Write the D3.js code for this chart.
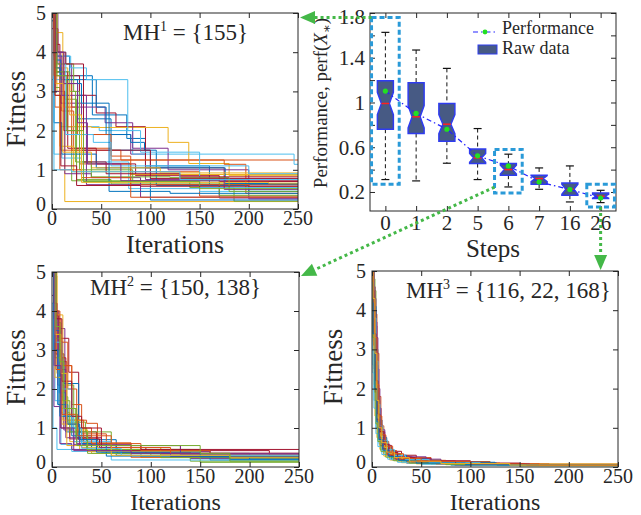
<!DOCTYPE html>
<html>
<head>
<meta charset="utf-8">
<script src="https://cdn.jsdelivr.net/npm/d3@7"></script>
<style>
  body { margin: 0; background: #fff; }
  text { font-family: "Liberation Serif", "DejaVu Serif", serif; fill: #262626; }
</style>
</head>
<body>
<svg id="fig" width="641" height="515"></svg>
<script>
// ---- data ----
const iterTicks = [0, 50, 100, 150, 200, 250];
const fitnessTicks = [0, 1, 2, 3, 4, 5];
const lineColors = ["#0072BD", "#D95319", "#EDB120", "#7E2F8E", "#77AC30", "#4DBEEE", "#A2142F"];

// best-so-far fitness of each run: [iteration, fitness] where the value changes
const runsMH1 = [
  [[0,5.5],[4,3.9],[18,3.4],[41,2.4],[76,1.8],[95,1.1],[160,0.62]],
  [[0,5.3],[3,3.6],[10,2.5],[22,1.55],[60,1.25]],
  [[0,5.8],[5,3.0],[13,0.19]],
  [[0,5.2],[2,4.0],[9,2.7],[30,1.9],[80,1.4],[95,0.75],[200,0.62]],
  [[0,5.4],[3,3.1],[8,2.1],[20,0.72],[140,0.55],[185,0.2]],
  [[0,5.1],[4,3.3],[15,2.1],[48,2.0],[82,1.4],[246,1.14]],
  [[0,5.7],[2,4.0],[12,3.4],[28,2.9],[45,2.45],[65,2.1],[95,1.05],[175,0.72]],
  [[0,4.8],[3,3.5],[12,3.3],[26,2.3],[60,1.5],[100,0.23]],
  [[0,5.5],[3,2.6],[9,1.5],[28,1.15],[80,0.95],[150,0.33]],
  [[0,5.9],[4,3.6],[16,2.1],[40,2.08],[118,1.7],[139,1.16],[180,0.85]],
  [[0,5.3],[6,3.7],[20,2.6],[54,2.2],[82,1.55],[118,1.0],[200,0.26]],
  [[0,5.0],[3,3.0],[13,2.8],[25,0.75],[60,0.64]],
  [[0,5.2],[2,1.4],[10,1.3],[30,1.2],[78,0.52],[150,0.45]],
  [[0,5.6],[3,4.2],[8,3.5],[16,1.55],[45,1.15],[85,0.85],[170,0.7]],
  [[0,5.4],[2,3.8],[9,3.3],[45,2.6],[55,1.9],[80,1.7],[94,1.5],[106,0.6],[200,0.45]],
  [[0,5.2],[4,3.2],[20,1.5],[70,1.25],[175,1.14],[197,0.4]],
  [[0,5.4],[3,2.9],[8,1.6],[22,0.95],[80,0.88]],
  [[0,4.6],[3,3.0],[13,0.9],[40,0.8],[90,0.62],[170,0.28]],
  [[0,5.5],[4,3.7],[22,3.0],[28,1.0],[82,0.72],[170,0.35]],
  [[0,5.0],[3,3.9],[19,3.6],[35,3.3],[77,2.0],[90,1.45],[150,0.55]],
  [[0,5.9],[4,3.5],[12,2.0],[30,1.5],[100,0.78]],
  [[0,4.9],[2,2.2],[10,1.4],[45,1.05],[176,0.65]],
  [[0,5.1],[3,3.5],[12,2.6],[26,1.9],[60,1.35],[80,0.62],[200,0.58]],
  [[0,5.6],[5,4.5],[11,1.45],[40,1.05],[110,0.92]],
  [[0,5.3],[2,3.9],[10,2.9],[35,0.62],[90,0.3]],
  [[0,5.0],[4,3.5],[18,3.0],[24,1.2],[40,0.82],[120,0.8],[180,0.45]],
  [[0,5.4],[3,4.0],[14,1.9],[42,1.7],[60,1.1],[200,0.9]],
  [[0,5.2],[2,4.6],[6,4.0],[14,3.7],[32,1.2],[55,0.9],[130,0.82]],
  [[0,4.9],[3,3.6],[8,3.2],[30,2.7],[58,0.45],[120,0.4]],
  [[0,5.0],[2,3.4],[8,1.0],[30,0.8],[80,0.3]],
  [[0,5.7],[3,3.2],[18,2.4],[30,0.68],[220,0.66]],
  [[0,5.5],[4,4.0],[12,3.2],[26,2.2],[36,1.15],[70,0.72],[175,0.5]],
  [[0,5.2],[5,3.4],[15,2.0],[32,0.7],[150,0.52]],
  [[0,3.3],[2,1.0],[20,0.95],[130,0.75]],
  [[0,5.5],[3,2.9],[9,1.1],[25,0.6],[90,0.58]]
];

const runsMH2 = [
  [[0,5.4],[2,3.4],[6,1.6],[14,0.9],[30,0.55],[65,0.3],[180,0.2]],
  [[0,5.2],[3,3.8],[9,2.7],[15,1.2],[35,1.12],[46,0.5],[110,0.33],[200,0.28]],
  [[0,5.0],[1,4.9],[5,2.4],[12,1.0],[28,0.45],[90,0.25]],
  [[0,5.5],[3,4.0],[7,3.55],[13,1.3],[25,0.6],[60,0.38],[140,0.22]],
  [[0,5.3],[4,3.0],[10,1.5],[24,0.75],[40,0.42],[100,0.3],[150,0.12]],
  [[0,4.2],[1,1.0],[5,0.45],[50,0.38],[120,0.25]],
  [[0,5.6],[2,4.0],[6,3.3],[17,2.43],[27,0.9],[45,0.55],[130,0.3]],
  [[0,5.1],[3,2.9],[12,2.14],[27,0.7],[65,0.42],[160,0.18]],
  [[0,5.4],[2,3.6],[8,2.6],[20,1.6],[30,0.85],[55,0.45],[130,0.3]],
  [[0,5.6],[4,3.0],[8,1.4],[18,0.65],[40,0.35],[180,0.22]],
  [[0,5.2],[2,3.5],[6,2.1],[12,0.95],[22,0.58],[80,0.4],[160,0.25]],
  [[0,5.0],[3,3.7],[9,1.8],[16,1.15],[34,0.9],[60,0.45],[140,0.15]],
  [[0,5.3],[3,1.7],[9,0.58],[20,0.4],[90,0.28]],
  [[0,5.5],[3,3.9],[7,2.8],[14,1.1],[25,0.75],[50,0.42],[220,0.3]],
  [[0,5.2],[2,2.6],[8,1.9],[14,1.5],[20,0.8],[40,0.5],[66,0.35],[200,0.2]],
  [[0,5.6],[4,2.9],[12,2.6],[20,1.2],[32,0.62],[80,0.25]],
  [[0,5.9],[5,3.9],[11,1.2],[30,0.5],[110,0.3]],
  [[0,4.4],[2,1.55],[8,0.6],[20,0.45],[70,0.38],[120,0.27]],
  [[0,5.1],[3,3.3],[8,2.1],[22,1.0],[35,0.45],[150,0.3]],
  [[0,5.4],[2,3.0],[7,1.9],[12,1.3],[22,0.65],[60,0.18]],
  [[0,5.7],[3,3.0],[9,1.0],[18,0.72],[48,0.5],[95,0.35]],
  [[0,5.0],[4,3.5],[8,1.3],[20,1.0],[30,0.6],[55,0.28],[180,0.2]],
  [[0,5.3],[3,4.0],[8,3.2],[16,2.0],[25,1.0],[40,0.6],[90,0.42],[160,0.3]],
  [[0,5.5],[3,2.3],[10,1.1],[25,0.95],[36,0.4],[150,0.3]],
  [[0,5.2],[2,3.8],[6,2.5],[14,0.75],[28,0.55],[130,0.33]],
  [[0,5.4],[3,2.8],[11,1.7],[18,0.9],[36,0.35],[110,0.24]],
  [[0,5.1],[3,3.2],[10,2.0],[20,1.0],[30,0.48],[70,0.3]],
  [[0,5.6],[2,4.2],[5,3.8],[10,2.2],[20,1.3],[30,1.0],[50,0.55],[90,0.45]],
  [[0,5.3],[2,3.0],[6,1.6],[16,1.1],[28,0.7],[45,0.38],[150,0.26]],
  [[0,5.0],[4,2.5],[10,1.35],[26,0.8],[60,0.5],[120,0.35]],
  [[0,5.8],[3,3.4],[9,2.4],[15,0.55],[60,0.3],[180,0.25]],
  [[0,5.2],[3,2.6],[9,1.0],[22,0.42],[80,0.35]],
  [[0,5.3],[4,3.6],[8,2.7],[12,1.5],[25,0.55],[150,0.35],[180,0.15]]
];

const runsMH3 = [
  [[0,5.2],[1,4.1],[2,3.0],[4,1.6],[6,0.95],[9,0.6],[13,0.4],[20,0.25],[32,0.15],[55,0.1],[100,0.06]],
  [[0,5.4],[2,3.9],[3,3.2],[5,2.0],[7,1.1],[10,0.7],[14,0.45],[20,0.32],[30,0.24],[60,0.14],[120,0.07]],
  [[0,4.8],[1,3.5],[3,2.2],[4,1.2],[6,0.7],[9,0.45],[15,0.28],[25,0.15],[45,0.08],[90,0.05]],
  [[0,5.1],[1,4.4],[3,3.6],[5,2.4],[6,1.4],[8,0.85],[12,0.55],[18,0.35],[28,0.22],[45,0.16],[60,0.13],[84,0.05]],
  [[0,5.6],[2,4.5],[4,3.0],[6,1.7],[8,1.0],[11,0.65],[16,0.42],[24,0.28],[38,0.18],[70,0.1],[126,0.04]],
  [[0,4.5],[1,2.6],[2,1.7],[4,1.0],[7,0.6],[11,0.38],[18,0.22],[30,0.13],[60,0.08],[156,0.05]],
  [[0,5.3],[2,4.0],[4,2.6],[6,1.5],[9,0.9],[13,0.55],[20,0.4],[30,0.3],[45,0.22],[60,0.16],[100,0.1],[150,0.06]],
  [[0,5.0],[1,3.8],[2,2.5],[3,1.7],[5,1.0],[8,0.55],[12,0.32],[20,0.18],[35,0.1],[80,0.05],[200,0.04]],
  [[0,5.5],[1,4.6],[3,3.9],[5,2.9],[7,1.8],[9,1.05],[12,0.65],[17,0.42],[25,0.27],[40,0.17],[75,0.1],[130,0.06]],
  [[0,4.9],[1,3.2],[2,2.1],[3,1.3],[5,0.75],[8,0.45],[12,0.28],[18,0.18],[30,0.11],[60,0.07],[140,0.04]],
  [[0,5.2],[2,4.3],[4,3.3],[6,2.0],[8,1.2],[10,0.8],[14,0.5],[20,0.33],[28,0.26],[55,0.2],[70,0.12],[110,0.07]],
  [[0,5.7],[1,4.8],[3,3.4],[4,2.3],[6,1.3],[9,0.75],[13,0.48],[19,0.3],[30,0.18],[50,0.11],[95,0.06]],
  [[0,3.9],[1,2.4],[2,1.5],[4,0.85],[6,0.52],[10,0.32],[16,0.2],[26,0.12],[50,0.07],[100,0.05]],
  [[0,5.3],[1,4.0],[2,3.1],[4,1.9],[5,1.2],[8,0.7],[11,0.46],[16,0.3],[24,0.2],[40,0.13],[80,0.08],[180,0.05]],
  [[0,5.0],[2,4.1],[4,2.8],[5,1.9],[7,1.2],[10,0.75],[15,0.45],[22,0.3],[35,0.2],[55,0.12],[125,0.1],[127,0.05]],
  [[0,5.4],[1,3.6],[3,2.4],[5,1.4],[7,0.85],[10,0.52],[15,0.32],[22,0.21],[36,0.13],[65,0.08],[150,0.05]],
  [[0,4.6],[1,3.9],[2,3.0],[4,2.0],[6,1.25],[9,0.78],[13,0.5],[19,0.34],[30,0.22],[48,0.14],[90,0.08]],
  [[0,5.8],[2,4.6],[3,3.7],[5,2.5],[7,1.5],[9,0.95],[13,0.58],[18,0.38],[26,0.25],[42,0.15],[70,0.09],[160,0.06]],
  [[0,5.1],[1,3.3],[3,1.9],[4,1.1],[6,0.65],[9,0.4],[14,0.25],[22,0.16],[38,0.1],[75,0.06],[150,0.03]],
  [[0,5.5],[2,3.8],[4,2.7],[6,1.6],[8,1.05],[11,0.68],[16,0.44],[23,0.29],[34,0.19],[58,0.11],[110,0.06]],
  [[0,5.2],[1,4.5],[2,3.4],[4,2.2],[6,1.35],[8,0.9],[12,0.58],[17,0.37],[26,0.24],[44,0.15],[85,0.09],[155,0.08],[157,0.05]],
  [[0,4.7],[1,3.4],[3,2.0],[5,1.15],[7,0.7],[11,0.43],[17,0.27],[27,0.17],[45,0.1],[95,0.06]],
  [[0,5.3],[2,4.2],[3,3.3],[5,2.1],[7,1.3],[10,0.82],[14,0.53],[21,0.34],[32,0.22],[50,0.14],[100,0.08],[170,0.05]],
  [[0,5.6],[1,4.3],[3,2.9],[5,1.7],[7,1.0],[10,0.62],[15,0.38],[23,0.24],[38,0.15],[70,0.09],[140,0.05]]
];

const steps = ["0", "1", "2", "5", "6", "7", "16", "26"];
const whiskerHigh = [1.627, 1.469, 1.305, 0.767, 0.538, 0.415, 0.433, 0.215];
const quartile3   = [1.194, 1.176, 0.991, 0.585, 0.454, 0.350, 0.281, 0.191];
const medians     = [0.991, 0.872, 0.806, 0.505, 0.400, 0.320, 0.224, 0.162];
const quartile1   = [0.761, 0.723, 0.654, 0.454, 0.350, 0.269, 0.171, 0.141];
const whiskerLow  = [0.311, 0.299, 0.457, 0.311, 0.245, 0.224, 0.111, 0.105];
const notchHalf   = [0.100, 0.100, 0.085, 0.040, 0.040, 0.027, 0.045, 0.018];
const performance = [1.102, 0.902, 0.761, 0.523, 0.433, 0.290, 0.222, 0.146];
const perfTicks = [0.2, 0.4, 0.6, 0.8, 1.0, 1.2, 1.4, 1.6, 1.8];
const perfTickLabels = [0.2, 0.6, 1.0, 1.4, 1.8];

// highlighted steps (index into steps) and the value span of each frame
const highlightIdx    = [0, 4, 7];
const highlightTop    = [1.76, 0.58, 0.27];
const highlightBottom = [0.27, 0.19, 0.066];

// ---- drawing ----
const svg = d3.select("#fig");
const axisColor = "#262626";
const defs = svg.append("defs");

function styleAxis(sel) {
  sel.select(".domain").remove();
  sel.selectAll(".tick line").attr("stroke", axisColor).attr("stroke-width", 1);
}

function runsPanel(cfg) {
  const { left, right, top, bottom, runs, id } = cfg;
  const x = d3.scaleLinear().domain([0, 250]).range([left, right]);
  const y = d3.scaleLinear().domain([0, 5]).range([bottom, top]);
  const g = svg.append("g");

  defs.append("clipPath").attr("id", id).append("rect")
    .attr("x", left).attr("y", top).attr("width", right - left).attr("height", bottom - top);

  const line = d3.line().x(d => x(d[0])).y(d => y(d[1])).curve(d3.curveStepAfter);
  g.append("g").attr("clip-path", `url(#${id})`)
    .selectAll("path").data(runs).join("path")
    .attr("d", r => line(r.concat([[250, r[r.length - 1][1]]])))
    .attr("fill", "none")
    .attr("stroke", (r, i) => lineColors[i % lineColors.length])
    .attr("stroke-width", 1);

  // inward ticks on all four sides
  g.append("g").attr("transform", `translate(0,${bottom})`)
    .call(d3.axisBottom(x).tickValues(iterTicks).tickSize(-5).tickFormat("")).call(styleAxis);
  g.append("g").attr("transform", `translate(0,${top})`)
    .call(d3.axisTop(x).tickValues(iterTicks).tickSize(-5).tickFormat("")).call(styleAxis);
  g.append("g").attr("transform", `translate(${left},0)`)
    .call(d3.axisLeft(y).tickValues(fitnessTicks).tickSize(-5).tickFormat("")).call(styleAxis);
  g.append("g").attr("transform", `translate(${right},0)`)
    .call(d3.axisRight(y).tickValues(fitnessTicks).tickSize(-5).tickFormat("")).call(styleAxis);

  g.append("rect").attr("x", left).attr("y", top)
    .attr("width", right - left).attr("height", bottom - top)
    .attr("fill", "none").attr("stroke", axisColor).attr("stroke-width", 1);

  // tick labels
  g.selectAll(".xl").data(iterTicks).join("text")
    .attr("x", d => x(d)).attr("y", bottom + 16)
    .attr("text-anchor", "middle").attr("font-size", 20).text(d => d);
  g.selectAll(".yl").data(fitnessTicks).join("text")
    .attr("x", left - 6).attr("y", d => y(d) - (d === 0 ? 5 : 0)).attr("dy", "0.35em")
    .attr("text-anchor", "end").attr("font-size", 20).text(d => d);

  // axis titles
  g.append("text").attr("x", (left + right) / 2).attr("y", cfg.xTitleY)
    .attr("text-anchor", "middle").attr("font-size", cfg.xTitleSize).text("Iterations");
  g.append("text")
    .attr("transform", `translate(${cfg.yTitleX},${(top + bottom) / 2 - 2}) rotate(-90)`)
    .attr("text-anchor", "middle").attr("font-size", 27).text("Fitness");

  // metaheuristic label
  const t = g.append("text").attr("x", cfg.labelX).attr("y", cfg.labelY).attr("font-size", 23);
  t.append("tspan").text("MH");
  t.append("tspan").attr("dy", -9).attr("font-size", 14).text(cfg.sup);
  t.append("tspan").attr("dy", 9).text(" = {" + cfg.set + "}");
}

runsPanel({ left: 52, right: 298, top: 13, bottom: 209, runs: runsMH1, id: "clipMH1",
  xTitleY: 253, xTitleSize: 26,
  yTitleX: 25, labelX: 123, labelY: 40, sup: "1", set: "155" });
runsPanel({ left: 52, right: 299, top: 272, bottom: 467, runs: runsMH2, id: "clipMH2",
  xTitleY: 509.5, xTitleSize: 24,
  yTitleX: 25, labelX: 90, labelY: 295, sup: "2", set: "150, 138" });
runsPanel({ left: 372, right: 618, top: 271, bottom: 467, runs: runsMH3, id: "clipMH3",
  xTitleY: 509.5, xTitleSize: 24,
  yTitleX: 342, labelX: 406, labelY: 298, sup: "3", set: "116, 22, 168" });

// ---- box plot of performance per step ----
const bx = { left: 370, right: 616, top: 13, bottom: 211 };
const xb = d3.scaleLinear().domain([0.5, 8.5]).range([bx.left, bx.right]);
const yb = d3.scaleLinear().domain([0.03, 1.8]).range([bx.bottom, bx.top]);
const gb = svg.append("g");
const pos = steps.map((s, i) => i + 1);
const halfW = 0.26;

gb.append("g").attr("transform", `translate(0,${bx.bottom})`)
  .call(d3.axisBottom(xb).tickValues(pos).tickSize(-5).tickFormat("")).call(styleAxis);
gb.append("g").attr("transform", `translate(0,${bx.top})`)
  .call(d3.axisTop(xb).tickValues(pos).tickSize(-5).tickFormat("")).call(styleAxis);
gb.append("g").attr("transform", `translate(${bx.left},0)`)
  .call(d3.axisLeft(yb).tickValues(perfTicks).tickSize(-5).tickFormat("")).call(styleAxis);
gb.append("g").attr("transform", `translate(${bx.right},0)`)
  .call(d3.axisRight(yb).tickValues(perfTicks).tickSize(-5).tickFormat("")).call(styleAxis);

// whiskers
const boxes = gb.selectAll(".box").data(steps.map((s, i) => i)).join("g");
boxes.append("line")
  .attr("x1", i => xb(pos[i])).attr("x2", i => xb(pos[i]))
  .attr("y1", i => yb(whiskerHigh[i])).attr("y2", i => yb(quartile3[i]))
  .attr("stroke", "#111").attr("stroke-dasharray", "4,3");
boxes.append("line")
  .attr("x1", i => xb(pos[i])).attr("x2", i => xb(pos[i]))
  .attr("y1", i => yb(quartile1[i])).attr("y2", i => yb(whiskerLow[i]))
  .attr("stroke", "#111").attr("stroke-dasharray", "4,3");
[whiskerHigh, whiskerLow].forEach(arr => {
  boxes.append("line")
    .attr("x1", i => xb(pos[i] - 0.13)).attr("x2", i => xb(pos[i] + 0.13))
    .attr("y1", i => yb(arr[i])).attr("y2", i => yb(arr[i]))
    .attr("stroke", "#111").attr("stroke-width", 1.2);
});

// notched boxes
boxes.append("path")
  .attr("d", i => {
    const c = pos[i];
    const pts = [
      [c - halfW, quartile3[i]], [c + halfW, quartile3[i]],
      [c + halfW, medians[i] + notchHalf[i]], [c + halfW / 2, medians[i]],
      [c + halfW, medians[i] - notchHalf[i]], [c + halfW, quartile1[i]],
      [c - halfW, quartile1[i]], [c - halfW, medians[i] - notchHalf[i]],
      [c - halfW / 2, medians[i]], [c - halfW, medians[i] + notchHalf[i]]
    ];
    return "M" + pts.map(p => xb(p[0]) + "," + yb(p[1])).join("L") + "Z";
  })
  .attr("fill", "#475a84").attr("stroke", "#2f3cf0").attr("stroke-width", 1.5);
boxes.append("line")
  .attr("x1", i => xb(pos[i] - halfW / 2)).attr("x2", i => xb(pos[i] + halfW / 2))
  .attr("y1", i => yb(medians[i])).attr("y2", i => yb(medians[i]))
  .attr("stroke", "#ff2020").attr("stroke-width", 1.5);

// performance curve
gb.append("path")
  .attr("d", d3.line().x((d, i) => xb(pos[i])).y(d => yb(d))(performance))
  .attr("fill", "none").attr("stroke", "#2424ff").attr("stroke-width", 1.2)
  .attr("stroke-dasharray", "5,3,1.5,3");
gb.selectAll(".pm").data(performance).join("circle")
  .attr("cx", (d, i) => xb(pos[i])).attr("cy", d => yb(d)).attr("r", 2.6)
  .attr("fill", "#22e022");

gb.append("rect").attr("x", bx.left).attr("y", bx.top)
  .attr("width", bx.right - bx.left).attr("height", bx.bottom - bx.top)
  .attr("fill", "none").attr("stroke", axisColor).attr("stroke-width", 1);

// tick labels and titles
gb.selectAll(".bxl").data(steps).join("text")
  .attr("x", (d, i) => xb(pos[i])).attr("y", bx.bottom + 19)
  .attr("text-anchor", "middle").attr("font-size", 21).text(d => d);
gb.selectAll(".byl").data(perfTickLabels).join("text")
  .attr("x", bx.left - 5).attr("y", d => yb(d) + (d === 1.8 ? 4 : 0)).attr("dy", "0.35em")
  .attr("text-anchor", "end").attr("font-size", 21).text(d => d);
gb.append("text").attr("x", (bx.left + bx.right) / 2).attr("y", bx.bottom + 46)
  .attr("text-anchor", "middle").attr("font-size", 25).text("Steps");
const yt = gb.append("text")
  .attr("transform", `translate(327,103) rotate(-90)`)
  .attr("text-anchor", "middle").attr("font-size", 19);
yt.append("tspan").text("Performance, perf(");
yt.append("tspan").attr("font-style", "italic").text("X");
yt.append("tspan").attr("dy", 4).attr("font-size", 13).text("∗");
yt.append("tspan").attr("dy", -4).text(")");

// legend
const lg = gb.append("g");
lg.append("line").attr("x1", 473).attr("x2", 497).attr("y1", 32).attr("y2", 32)
  .attr("stroke", "#2424ff").attr("stroke-width", 1.2).attr("stroke-dasharray", "5,3,1.5,3");
lg.append("circle").attr("cx", 485).attr("cy", 32).attr("r", 2.4).attr("fill", "#22e022");
lg.append("text").attr("x", 502).attr("y", 34).attr("font-size", 18).text("Performance");
lg.append("rect").attr("x", 478).attr("y", 45).attr("width", 19).attr("height", 9)
  .attr("fill", "#475a84").attr("stroke", "#2f3cf0").attr("stroke-width", 1);
lg.append("text").attr("x", 502).attr("y", 54).attr("font-size", 18).text("Raw data");

// highlight frames
const hl = highlightIdx.map((k, j) => ({
  x0: xb(pos[k] - 0.45), x1: xb(pos[k] + 0.45),
  y0: yb(highlightTop[j]), y1: yb(highlightBottom[j])
}));
gb.selectAll(".hl").data(hl).join("rect")
  .attr("x", d => d.x0).attr("y", d => d.y0)
  .attr("width", d => d.x1 - d.x0).attr("height", d => d.y1 - d.y0)
  .attr("fill", "none").attr("stroke", "#2a9ad8").attr("stroke-width", 3)
  .attr("stroke-dasharray", "5,3");

// dotted arrows from the frames to the convergence panels
const green = "#44b848";
function arrow(x0, y0, x1, y1) {
  const dx = x1 - x0, dy = y1 - y0, len = Math.hypot(dx, dy);
  const ux = dx / len, uy = dy / len, head = 15, hw = 6.5;
  const bxp = x1 - ux * head, byp = y1 - uy * head;
  svg.append("line").attr("x1", x0).attr("y1", y0).attr("x2", bxp).attr("y2", byp)
    .attr("stroke", green).attr("stroke-width", 3).attr("stroke-dasharray", "3,3");
  svg.append("path")
    .attr("d", `M${x1},${y1}L${bxp - uy * hw},${byp + ux * hw}L${bxp + uy * hw},${byp - ux * hw}Z`)
    .attr("fill", green);
}
arrow(hl[0].x0, hl[0].y0, 300, hl[0].y0);
arrow(hl[1].x0, hl[1].y1 - 6, 301, 276);
arrow((hl[2].x0 + hl[2].x1) / 2, hl[2].y1, (hl[2].x0 + hl[2].x1) / 2, 270);
</script>
</body>
</html>
